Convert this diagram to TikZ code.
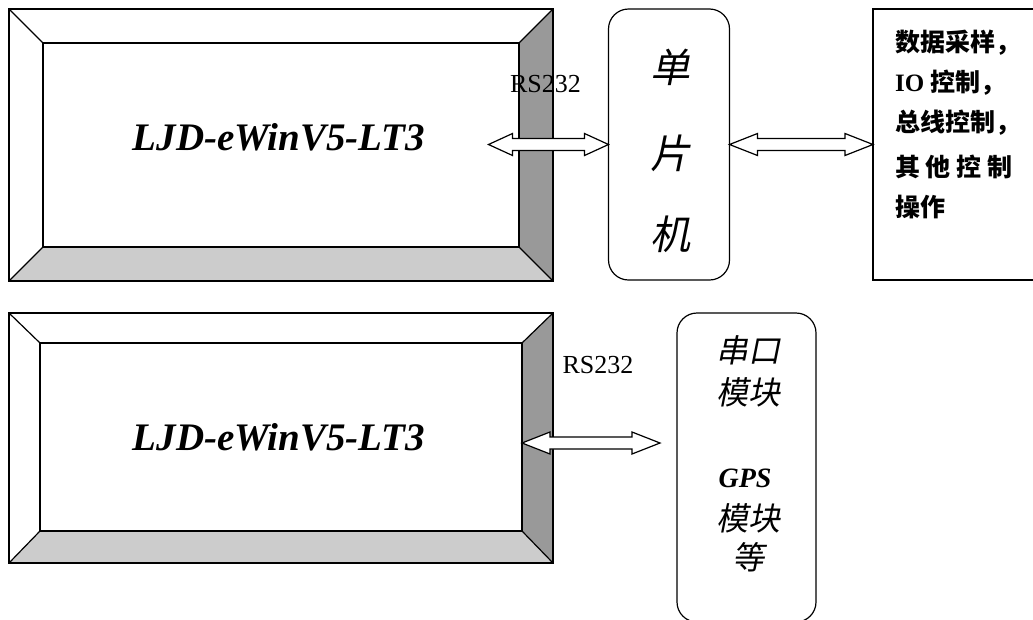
\documentclass[tikz,border=0pt]{standalone}
\usepackage{fontspec}
\setmainfont{Liberation Serif}
\newfontfamily\cjk{Noto Sans CJK SC}
\newfontfamily\cjkit[FakeSlant=0.2]{Noto Sans CJK SC}
\usetikzlibrary{calc}
\definecolor{darkband}{gray}{0.6}
\definecolor{lightband}{gray}{0.8}
\tikzset{
  edge/.style={line width=1.2pt, line join=miter},
  inner/.style={draw, edge, inner sep=0pt, outer sep=0pt},
  title/.style={font=\fontsize{39}{44}\selectfont\bfseries\itshape, inner sep=0pt, anchor=base},
  rs/.style={font=\fontsize{26}{30}\selectfont, inner sep=0pt},
  roundbox/.style={draw, edge, rounded corners=20pt, inner sep=0pt, outer sep=0pt},
  plainbox/.style={draw, edge, inner sep=0pt, outer sep=0pt},
  mcutext/.style={font=\cjkit\fontsize{40}{44}\selectfont, inner sep=0pt},
  modtext/.style={font=\cjkit\fontsize{32}{36}\selectfont, inner sep=0pt},
  ctrltext/.style={font=\cjk\bfseries\fontsize{25}{30}\selectfont, inner sep=0pt, anchor=west},
  arrowline/.style={draw=black, fill=white, line width=1.2pt, line join=miter}
}
\newcommand\dbarrow[3]{%
  \draw[arrowline] (#1) -- ++(#3,-11) -- ++(0,5) -- ($(#2)+(-#3,-6)$) -- ++(0,-5)
    -- (#2) -- ++(-#3,11) -- ++(0,-5) -- ($(#1)+(#3,6)$) -- ++(0,5) -- cycle;}
\begin{document}
\begin{tikzpicture}[x=1pt,y=-1pt]
\useasboundingbox (0,0) rectangle (1033,619);
\fill[white] (0,0) rectangle (1033,619);

% ---------- top bevel box ----------
\fill[darkband] (519,43) -- (553,9) -- (553,281) -- (519,247) -- cycle;
\fill[lightband] (43,247) -- (519,247) -- (553,281) -- (9,281) -- cycle;
\node[plainbox, minimum width=544, minimum height=272] (out1) at (281,145) {};
\node[inner, minimum width=476, minimum height=204] (in1) at (281,145) {};
\draw[edge] (out1.north west) -- (in1.north west);
\draw[edge] (out1.north east) -- (in1.north east);
\draw[edge] (out1.south west) -- (in1.south west);
\draw[edge] (out1.south east) -- (in1.south east);
\node[title] (ljd1) at (279,150) {LJD-eWinV5-LT3};

% ---------- MCU ----------
\node[roundbox, minimum width=121, minimum height=271] (mcu) at (669,144.5) {};
\node[mcutext] (m1) at (670,67) {单};
\node[mcutext] (m2) at (670,153) {片};
\node[mcutext] (m3) at (670,234) {机};

% ---------- control box ----------
\node[plainbox, minimum width=167, minimum height=271] (ctrl) at (956.5,144.5) {};
\node[ctrltext] (c1) at (895,43) {数据采样，};
\node[ctrltext] (c2) at (895,83) {\rmfamily\bfseries IO\ \cjk\bfseries 控制，};
\node[ctrltext] (c3) at (895,123) {总线控制，};
\node[ctrltext] (c4) at (895,167) {其 他 控 制};
\node[ctrltext] (c5) at (895,207) {操作};

\node[rs] (rs1) at (545.5,84) {RS232};

% arrows top
\path (mcu.west) ++(-120,0) coordinate (a1);
\dbarrow{a1}{mcu.west}{24}
\dbarrow{mcu.east}{ctrl.west}{28}

% ---------- bottom bevel box ----------
\fill[darkband] (522,343) -- (553,313) -- (553,563) -- (522,531) -- cycle;
\fill[lightband] (40,531) -- (522,531) -- (553,563) -- (9,563) -- cycle;
\node[plainbox, minimum width=544, minimum height=250] (out2) at (281,438) {};
\node[inner, minimum width=482, minimum height=188] (in2) at (281,437) {};
\draw[edge] (out2.north west) -- (in2.north west);
\draw[edge] (out2.north east) -- (in2.north east);
\draw[edge] (out2.south west) -- (in2.south west);
\draw[edge] (out2.south east) -- (in2.south east);
\node[title] (ljd2) at (279,450) {LJD-eWinV5-LT3};

\node[rs] (rs2) at (598,365) {RS232};

% ---------- module box ----------
\node[roundbox, minimum width=139, minimum height=309] (mod) at (746.5,467.5) {};
\node[modtext] (g1) at (748,350) {串口};
\node[modtext] (g2) at (748,392) {模块};
\node[font=\fontsize{28}{32}\selectfont\bfseries\itshape, inner sep=0pt, anchor=base] (g3) at (745,487) {GPS};
\node[modtext] (g4) at (748,518) {模块};
\node[modtext] (g5) at (748,557) {等};

\coordinate (b1) at ($(in2.east)+(0,6)$);
\coordinate (b2) at (660,443);
\dbarrow{b1}{b2}{28}
\end{tikzpicture}
\end{document}
